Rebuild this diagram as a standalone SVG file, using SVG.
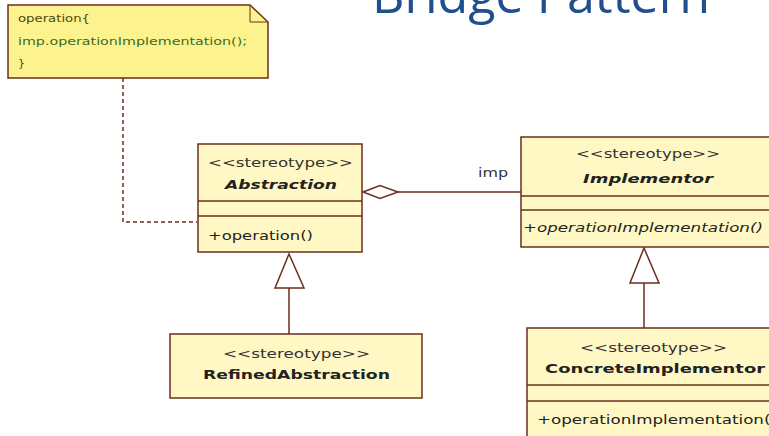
<svg xmlns="http://www.w3.org/2000/svg" width="769" height="436" viewBox="0 0 769 436">
<style>
.box{fill:#FFF8C4;stroke:#6B2E1E;stroke-width:1.5}
.ln{stroke:#6B2E1E;stroke-width:1.5;fill:none}
.t{font-family:"DejaVu Sans",sans-serif;font-size:13px;fill:#222}
.st{font-family:"DejaVu Sans",sans-serif;font-size:13px;fill:#333}
.b{font-weight:bold}
.bi{font-weight:bold;font-style:italic}
.i{font-style:italic}
.n{font-family:"DejaVu Sans",sans-serif;font-size:11px}
</style>
<rect width="769" height="436" fill="#fff"/>
<text x="372" y="13" font-family="'Open Sans','Liberation Sans',sans-serif" font-size="50" fill="#1F4F8F" textLength="338" lengthAdjust="spacingAndGlyphs">Bridge Pattern</text>
<g id="connectors">
<polyline class="ln" points="123,78 123,222 197,222" stroke-dasharray="4,3"/>
<line class="ln" x1="398" y1="192" x2="521" y2="192"/>
<polygon class="ln" points="363,192 380,185.5 398,192 380,198.5" fill="#fff"/>
<text class="st" x="478" y="177" textLength="30" lengthAdjust="spacingAndGlyphs">imp</text>
<line class="ln" x1="289" y1="288" x2="289" y2="334"/>
<polygon class="ln" points="289,254 304,288 275,288" fill="#fff"/>
<line class="ln" x1="644" y1="283" x2="644" y2="328"/>
<polygon class="ln" points="644,248 659,283 630,283" fill="#fff"/>
</g>
<g id="note">
<path d="M8,5 H250 L268,22 V78 H8 Z" fill="#FCF38E" stroke="#6B2E1E" stroke-width="1.5"/>
<path d="M250,5 V22 H268" fill="none" stroke="#6B2E1E" stroke-width="1"/>
<text class="n" x="18" y="22" fill="#4F4A10" textLength="72" lengthAdjust="spacingAndGlyphs">operation{</text>
<text class="n" x="18" y="45" fill="#3E6A2A" textLength="229" lengthAdjust="spacingAndGlyphs">imp.operationImplementation();</text>
<text class="n" x="18" y="67" fill="#4F4A10">}</text>
</g>
<g id="abstraction">
<rect class="box" x="198" y="144" width="164" height="108"/>
<line class="ln" x1="198" y1="201" x2="362" y2="201"/>
<line class="ln" x1="198" y1="216" x2="362" y2="216"/>
<text class="st" x="208" y="167" textLength="145" lengthAdjust="spacingAndGlyphs">&lt;&lt;stereotype&gt;&gt;</text>
<text class="t bi" x="225" y="189" textLength="112" lengthAdjust="spacingAndGlyphs">Abstraction</text>
<text class="t" x="208" y="240" textLength="105" lengthAdjust="spacingAndGlyphs">+operation()</text>
</g>
<g id="implementor">
<rect class="box" x="521" y="137" width="260" height="110"/>
<line class="ln" x1="521" y1="196" x2="781" y2="196"/>
<line class="ln" x1="521" y1="210" x2="781" y2="210"/>
<text class="st" x="576" y="158" textLength="144" lengthAdjust="spacingAndGlyphs">&lt;&lt;stereotype&gt;&gt;</text>
<text class="t bi" x="583" y="183" textLength="130" lengthAdjust="spacingAndGlyphs">Implementor</text>
<text class="t i" x="523" y="232" textLength="240" lengthAdjust="spacingAndGlyphs">+operationImplementation()</text>
</g>
<g id="refinedAbstraction">
<rect class="box" x="170" y="334" width="252" height="64"/>
<text class="st" x="223" y="358" textLength="147" lengthAdjust="spacingAndGlyphs">&lt;&lt;stereotype&gt;&gt;</text>
<text class="t b" x="203" y="379" textLength="187" lengthAdjust="spacingAndGlyphs">RefinedAbstraction</text>
</g>
<g id="concreteImplementor">
<rect class="box" x="527" y="328" width="260" height="120"/>
<line class="ln" x1="527" y1="385" x2="787" y2="385"/>
<line class="ln" x1="527" y1="401" x2="787" y2="401"/>
<text class="st" x="580" y="352" textLength="147" lengthAdjust="spacingAndGlyphs">&lt;&lt;stereotype&gt;&gt;</text>
<text class="t b" x="545" y="373" textLength="220" lengthAdjust="spacingAndGlyphs">ConcreteImplementor</text>
<text class="t" x="537" y="424" textLength="240" lengthAdjust="spacingAndGlyphs">+operationImplementation()</text>
</g>
</svg>
